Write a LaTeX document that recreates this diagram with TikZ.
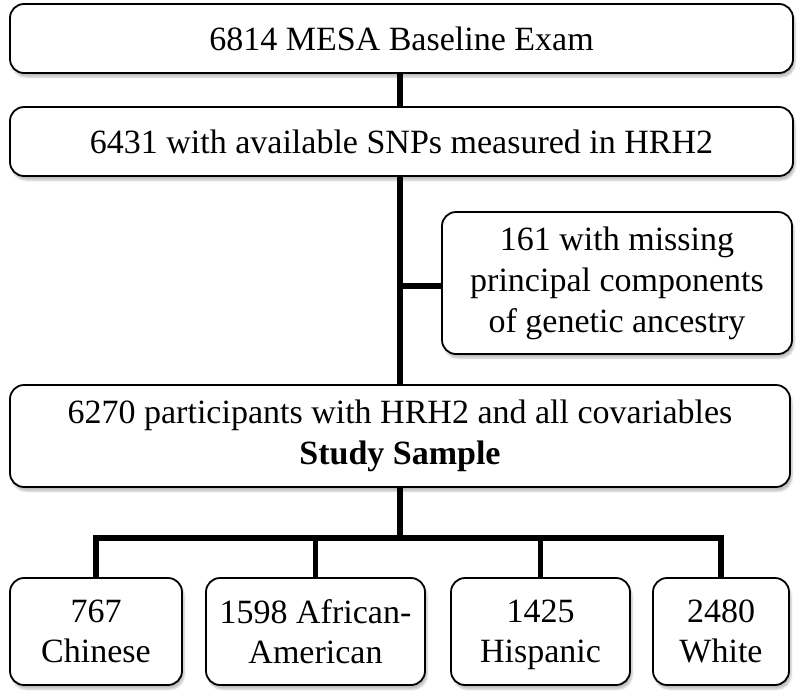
\documentclass[tikz,border=0pt]{standalone}
\usepackage{fontspec}
\setmainfont{Liberation Serif}
\usetikzlibrary{shadows.blur}
\begin{document}
\begin{tikzpicture}[x=1pt,y=-1pt,
  box/.style={draw=black, line width=1.8pt, fill=white, rounded corners=14pt,
    align=center, inner sep=0pt, font=\fontsize{34}{41}\selectfont,
    blur shadow={shadow xshift=2pt, shadow yshift=-4pt, shadow blur steps=6, shadow opacity=25}},
  small/.style={font=\fontsize{34}{40}\selectfont, text depth=0pt},
  link/.style={line width=5.5pt}]
\useasboundingbox (0,0) rectangle (800,694);
\node[box, minimum width=783pt, minimum height=69pt] (b1) at (401.5,38.5) {6814 MESA Baseline Exam};
\node[box, minimum width=783pt, minimum height=69pt] (b2) at (401.5,141.5) {6431 with available SNPs measured in HRH2};
\node[box, minimum width=350pt, minimum height=142pt] (side) at (617,283) {161 with missing\\principal components\\of genetic ancestry};
\node[box, minimum width=780pt, minimum height=102pt] (b3) at (400,436) {6270 participants with HRH2 and all covariables\\\textbf{Study Sample}};
\node[box, small, minimum width=172pt, minimum height=107pt] (ca) at (96,631.5) {767\\Chinese};
\node[box, small, minimum width=219pt, minimum height=107pt] (cb) at (315.5,631.5) {1598 African-\\American};
\node[box, small, minimum width=179pt, minimum height=107pt] (cc) at (540.5,631.5) {1425\\Hispanic};
\node[box, small, minimum width=136pt, minimum height=107pt] (cd) at (721,631.5) {2480\\White};
\coordinate (tr) at (400,0);
\coordinate (j) at (400,286);
\coordinate (bus) at (0,538);
\draw[link, line cap=butt] (b1.south -| tr) -- (b2.north -| tr);
\draw[link, line cap=butt] (b2.south -| tr) -- (b3.north -| tr);
\draw[link, line cap=butt] (j) -- (side.west |- j);
\draw[link, line cap=butt] (b3.south -| tr) -- (bus -| tr);
\draw[link, line cap=butt, line join=miter] (ca.north) -- (bus -| ca.north) -- (bus -| cd.north) -- (cd.north);
\draw[link, line cap=butt] (bus -| cb.north) -- (cb.north);
\draw[link, line cap=butt] (bus -| cc.north) -- (cc.north);
\end{tikzpicture}
\end{document}
